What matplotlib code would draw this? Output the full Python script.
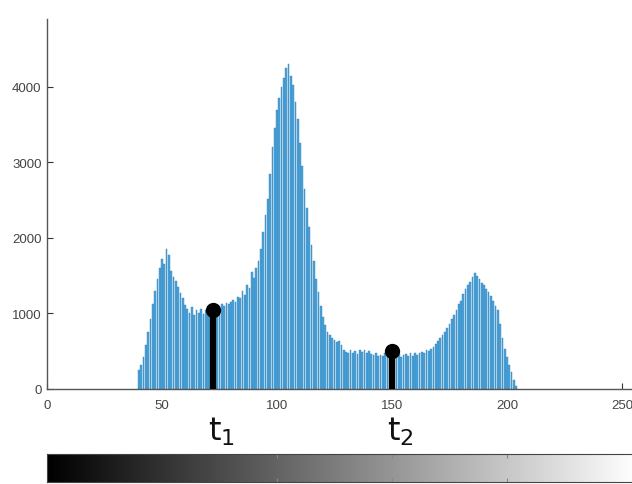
import numpy as np
import matplotlib
matplotlib.use("Agg")
import matplotlib.pyplot as plt

# gray level histogram, bins 40..204
bins = np.arange(40, 205)
counts = [
    250, 320, 420, 580, 750, 920, 1120, 1300, 1450, 1600,      # 40-49
    1720, 1650, 1850, 1780, 1560, 1480, 1430, 1350, 1270, 1200,  # 50-59
    1110, 1060, 1000, 1080, 980, 1040, 1000, 1060, 990, 1050,    # 60-69
    1010, 1040, 1050, 1080, 1110, 1060, 1130, 1100, 1140, 1120,  # 70-79
    1150, 1180, 1150, 1220, 1200, 1300, 1250, 1380, 1330, 1550,  # 80-89
    1470, 1600, 1700, 1850, 2080, 2300, 2520, 2850, 3200, 3450,  # 90-99
    3700, 3850, 4000, 4120, 4250, 4300, 4150, 4020, 3800, 3580,  # 100-109
    3250, 2950, 2650, 2400, 2150, 1900, 1700, 1450, 1280, 1100,  # 110-119
    950, 850, 760, 720, 680, 650, 620, 640, 580, 520,            # 120-129
    490, 470, 510, 480, 500, 460, 520, 490, 510, 470,            # 130-139
    500, 460, 450, 480, 440, 450, 430, 470, 450, 440,            # 140-149
    500, 470, 440, 460, 420, 450, 460, 430, 470, 440,            # 150-159
    480, 450, 470, 490, 480, 510, 500, 530, 560, 600,            # 160-169
    640, 670, 720, 760, 810, 860, 930, 980, 1050, 1120,          # 170-179
    1170, 1260, 1320, 1380, 1420, 1480, 1540, 1500, 1460, 1400,  # 180-189
    1370, 1320, 1280, 1230, 1160, 1100, 1050, 860, 680, 530,     # 190-199
    420, 320, 230, 120, 40,                                      # 200-204
]

# thresholds
thresholds = [72, 150]
threshold_heights = [1050, 500]
threshold_labels = ['t$_1$', 't$_2$']

xticks = [0, 50, 100, 150, 200, 250]
yticks = [0, 1000, 2000, 3000, 4000]

fig = plt.figure(figsize=(6.32, 4.85), dpi=100)
ax = fig.add_axes([0.0744, 0.196, 0.9316, 0.763])

ax.bar(bins, counts, width=0.75, color='#4ea4da', edgecolor='#3184ba',
       linewidth=0.3, zorder=2)

# threshold stems
ax.vlines(thresholds, 0, threshold_heights, color='black', linewidth=4.5, zorder=3)
ax.plot(thresholds, threshold_heights, 'o', color='black', markersize=10, zorder=4)

ax.set_xlim(0, 256)
ax.set_ylim(0, 4900)
ax.set_xticks(xticks)
ax.set_yticks(yticks)
ax.tick_params(direction='in', length=4, width=0.8, colors='#333333',
               labelsize=9.5, labelcolor='#444444', pad=4)
ax.tick_params(axis='x', pad=7)
for s in ['top', 'right']:
    ax.spines[s].set_visible(False)
for s in ['left', 'bottom']:
    ax.spines[s].set_color('#555555')
    ax.spines[s].set_linewidth(1.0)
for lab in ax.get_xticklabels() + ax.get_yticklabels():
    lab.set_family('Liberation Sans')

# threshold labels under the axis
trans = ax.get_xaxis_transform()
for x, lab in zip(thresholds, threshold_labels):
    ax.text(x - 2, -0.07, lab, transform=trans, ha='left', va='top',
            fontsize=23, color='#111111', clip_on=False)

# gray scale bar aligned with the histogram x axis
cax = fig.add_axes([0.0744, 0.004, 0.9316, 0.058])
gradient = np.linspace(0, 1, 256).reshape(1, -1)
cax.imshow(gradient, cmap='gray', aspect='auto', extent=[0, 256, 0, 1])
cax.set_xlim(0, 256)
cax.set_ylim(0, 1)
cax.set_yticks([])
cax.set_xticks([100, 150, 200])
cax.tick_params(direction='in', length=3, colors='#888888', labelbottom=False,
                top=True)
for s in cax.spines.values():
    s.set_color('#444444')
    s.set_linewidth(0.8)

fig.savefig('out.png', dpi=100)
